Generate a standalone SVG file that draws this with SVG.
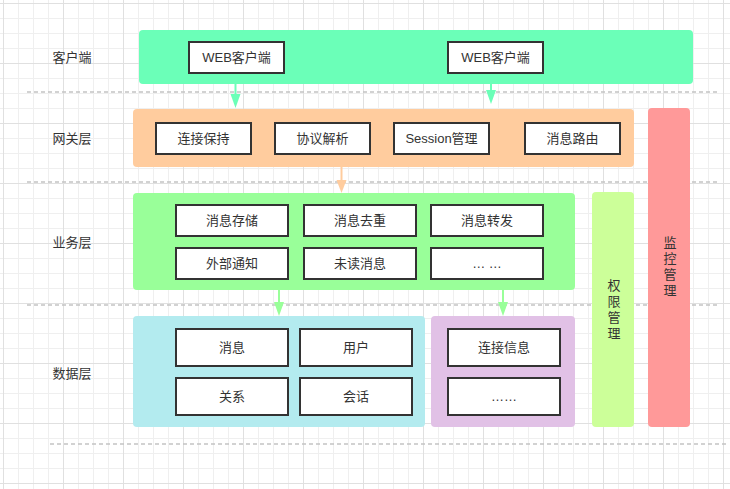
<svg xmlns="http://www.w3.org/2000/svg" width="730" height="489" viewBox="0 0 730 489">
<defs>
<pattern id="minor" x="3" y="3" width="15" height="15" patternUnits="userSpaceOnUse"><path d="M0 0.5H15M0.5 0V15" fill="none" stroke="#efefef" stroke-width="1"/></pattern>
<pattern id="major" x="3" y="3" width="60" height="60" patternUnits="userSpaceOnUse"><path d="M0 0.5H60M0.5 0V60" fill="none" stroke="#e0e0e0" stroke-width="1"/></pattern>
</defs>
<style>
.lbl{font-family:"Liberation Sans","Noto Sans CJK SC",sans-serif;font-size:13px;fill:#333;text-anchor:middle;dominant-baseline:central}
.vert{writing-mode:vertical-rl;letter-spacing:3px}
.box rect{fill:#fff;stroke:#333;stroke-width:2}
.dash{stroke:#c4c4c4;stroke-width:1.5;stroke-dasharray:4 3;fill:none}
.band{stroke:none}
</style>
<rect width="730" height="489" fill="#fff"/>
<rect width="730" height="489" fill="url(#minor)"/>
<rect width="730" height="489" fill="url(#major)"/>

<g id="separators">
<line class="dash" x1="27" y1="92" x2="718" y2="92"/>
<line class="dash" x1="27" y1="182" x2="718" y2="182"/>
<line class="dash" x1="27" y1="305" x2="718" y2="305"/>
<line class="dash" x1="50" y1="444" x2="728" y2="444"/>
</g>

<g id="layer-labels">
<text class="lbl" x="72" y="57">客户端</text>
<text class="lbl" x="72" y="138">网关层</text>
<text class="lbl" x="72" y="242">业务层</text>
<text class="lbl" x="72" y="373">数据层</text>
</g>

<g id="client-layer"><rect class="band" x="139" y="30" width="554" height="54" rx="4" fill="#6bffb8"/></g>
<g id="gateway-layer"><rect class="band" x="133" y="109" width="501" height="58" rx="4" fill="#ffcc9e"/></g>
<g id="business-layer"><rect class="band" x="133" y="193" width="442" height="97" rx="4" fill="#99ff99"/></g>
<g id="data-layer"><rect class="band" x="133" y="316" width="292" height="111" rx="4" fill="#b3ebef"/></g>
<g id="conn-store"><rect class="band" x="431" y="316" width="144" height="111" rx="4" fill="#e1c1e6"/></g>
<g id="auth"><rect class="band" x="592" y="192" width="42" height="235" rx="4" fill="#ccff99"/>
<text class="lbl vert" x="613" y="311">权限管理</text></g>
<g id="monitor"><rect class="band" x="648" y="108" width="42" height="319" rx="4" fill="#ff9999"/>
<text class="lbl vert" x="669" y="268">监控管理</text></g>

<g id="web1" class="box"><rect x="189" y="42" width="95" height="31"/><text class="lbl" x="236.5" y="57.5">WEB客户端</text></g>
<g id="web2" class="box"><rect x="448" y="42" width="95" height="31"/><text class="lbl" x="495.5" y="57.5">WEB客户端</text></g>

<g id="keepalive" class="box"><rect x="156" y="123" width="95" height="31"/><text class="lbl" x="203.5" y="138.5">连接保持</text></g>
<g id="protocol" class="box"><rect x="275" y="123" width="95" height="31"/><text class="lbl" x="322.5" y="138.5">协议解析</text></g>
<g id="session" class="box"><rect x="394" y="123" width="95" height="31"/><text class="lbl" x="441.5" y="138.5">Session管理</text></g>
<g id="routing" class="box"><rect x="525" y="123" width="95" height="31"/><text class="lbl" x="572.5" y="138.5">消息路由</text></g>

<g id="msg-store" class="box"><rect x="176" y="205" width="112" height="31"/><text class="lbl" x="232" y="220.5">消息存储</text></g>
<g id="msg-dedup" class="box"><rect x="304" y="205" width="112" height="31"/><text class="lbl" x="360" y="220.5">消息去重</text></g>
<g id="msg-forward" class="box"><rect x="431" y="205" width="112" height="31"/><text class="lbl" x="487" y="220.5">消息转发</text></g>
<g id="notify" class="box"><rect x="176" y="248" width="112" height="31"/><text class="lbl" x="232" y="263.5">外部通知</text></g>
<g id="unread" class="box"><rect x="304" y="248" width="112" height="31"/><text class="lbl" x="360" y="263.5">未读消息</text></g>
<g id="biz-more" class="box"><rect x="431" y="248" width="112" height="31"/><text class="lbl" x="487" y="263.5">… …</text></g>

<g id="d-msg" class="box"><rect x="176" y="329" width="112" height="37"/><text class="lbl" x="232" y="347.5">消息</text></g>
<g id="d-user" class="box"><rect x="300" y="329" width="112" height="37"/><text class="lbl" x="356" y="347.5">用户</text></g>
<g id="d-rel" class="box"><rect x="176" y="378" width="112" height="37"/><text class="lbl" x="232" y="396.5">关系</text></g>
<g id="d-conv" class="box"><rect x="300" y="378" width="112" height="37"/><text class="lbl" x="356" y="396.5">会话</text></g>
<g id="d-conn" class="box"><rect x="448" y="329" width="112" height="37"/><text class="lbl" x="504" y="347.5">连接信息</text></g>
<g id="d-more" class="box"><rect x="448" y="378" width="112" height="37"/><text class="lbl" x="504" y="396.5">……</text></g>

<g id="connectors">
<line x1="235.5" y1="84" x2="235.5" y2="95" stroke="#6bffb8" stroke-width="2"/>
<polygon points="230.5,94 240.5,94 235.5,108" fill="#6bffb8"/>
<line x1="491" y1="84" x2="491" y2="92" stroke="#6bffb8" stroke-width="2"/>
<polygon points="486,90 496,90 491,104" fill="#6bffb8"/>
<line x1="341.5" y1="167" x2="341.5" y2="181" stroke="#ffcc9e" stroke-width="2"/>
<polygon points="336.5,180 346.5,180 341.5,193" fill="#ffcc9e"/>
<line x1="279" y1="290" x2="279" y2="302" stroke="#99ff99" stroke-width="2"/>
<polygon points="274,302 284,302 279,316" fill="#99ff99"/>
<line x1="503" y1="290" x2="503" y2="302" stroke="#99ff99" stroke-width="2"/>
<polygon points="498,302 508,302 503,316" fill="#99ff99"/>
</g>
</svg>
